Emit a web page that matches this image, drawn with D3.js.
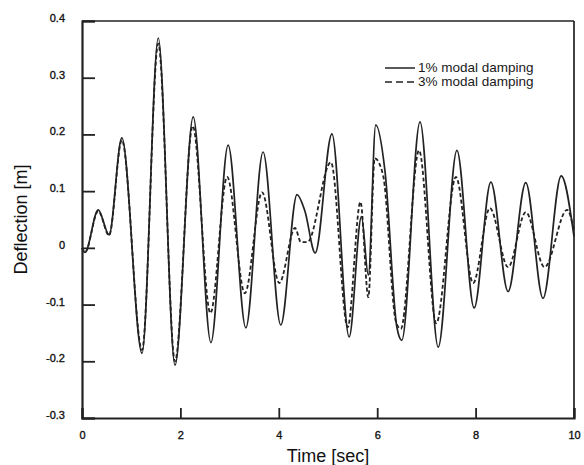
<!DOCTYPE html>
<html>
<head>
<meta charset="utf-8">
<script src="https://cdn.jsdelivr.net/npm/d3@7"></script>
<style>
  html, body { margin: 0; padding: 0; background: #ffffff; }
  svg { display: block; }
</style>
</head>
<body>
<svg id="chart" width="584" height="465"></svg>
<script>
// ---- data ----
const time1 = [0.00, 0.06, 0.33, 0.55, 0.81, 1.22, 1.55, 1.89, 2.26, 2.62, 2.97, 3.33, 3.68, 4.04, 4.37, 4.53, 4.74, 5.08, 5.43, 5.68, 5.82, 5.97, 6.16, 6.40, 6.50, 6.87, 7.24, 7.62, 7.97, 8.31, 8.66, 9.02, 9.37, 9.74, 10.00];
const defl1 = [0.000, -0.008, 0.067, 0.023, 0.194, -0.186, 0.370, -0.207, 0.231, -0.167, 0.181, -0.141, 0.169, -0.136, 0.094, 0.065, -0.009, 0.201, -0.157, 0.055, -0.048, 0.217, 0.134, -0.140, -0.163, 0.222, -0.175, 0.172, -0.106, 0.116, -0.077, 0.115, -0.089, 0.127, 0.020];

const time3 = [0.00, 0.06, 0.33, 0.55, 0.81, 1.22, 1.55, 1.89, 2.25, 2.61, 2.95, 3.31, 3.66, 4.01, 4.33, 4.45, 4.58, 5.06, 5.40, 5.66, 5.82, 5.95, 6.12, 6.38, 6.48, 6.85, 7.20, 7.60, 7.95, 8.29, 8.66, 9.02, 9.40, 9.86, 10.00];
const defl3 = [0.000, -0.008, 0.065, 0.022, 0.190, -0.180, 0.360, -0.200, 0.215, -0.115, 0.125, -0.080, 0.098, -0.062, 0.035, 0.010, 0.010, 0.151, -0.140, 0.081, -0.087, 0.158, 0.128, -0.130, -0.143, 0.172, -0.133, 0.125, -0.062, 0.070, -0.034, 0.063, -0.034, 0.067, 0.031];

const xTicks = [0, 2, 4, 6, 8, 10];
const xTickLabels = ["0", "2", "4", "6", "8", "10"];
const yTicks = [-0.3, -0.2, -0.1, 0, 0.1, 0.2, 0.3, 0.4];
const yTickLabels = ["-0.3", "-0.2", "-0.1", "0", "0.1", "0.2", "0.3", "0.4"];
const seriesNames = ["1% modal damping", "3% modal damping"];

// ---- layout ----
const svg = d3.select("#chart");
const plotL = 82, plotR = 574, plotT = 21, plotB = 418;
const x = d3.scaleLinear().domain([0, 10]).range([plotL, plotR]);
const y = d3.scaleLinear().domain([-0.3, 0.4]).range([plotB, plotT]);
const ink = "#222222";
const font = "'Liberation Sans', Arial, Helvetica, sans-serif";

// frame top/right
svg.append("line").attr("x1", plotL).attr("x2", plotR).attr("y1", plotT).attr("y2", plotT)
  .attr("stroke", ink).attr("stroke-width", 1.7);
svg.append("line").attr("x1", plotR).attr("x2", plotR).attr("y1", plotT).attr("y2", plotB)
  .attr("stroke", ink).attr("stroke-width", 1.7);

// axes with inward ticks
const yAxis = d3.axisLeft(y).tickValues(yTicks).tickSize(-13).tickPadding(17)
  .tickFormat((d, i) => yTickLabels[i]);
const gy = svg.append("g").attr("transform", `translate(${plotL},0)`).call(yAxis);
gy.select(".domain").attr("stroke", ink).attr("stroke-width", 2.2);
gy.selectAll(".tick line").attr("stroke", ink).attr("stroke-width", 1.8);
gy.selectAll(".tick text").attr("font-family", font).attr("font-size", 11)
  .attr("fill", "#111").attr("stroke", "#111").attr("stroke-width", 0.35).attr("dy", "0.05em");

const xAxis = d3.axisBottom(x).tickValues(xTicks).tickSize(-10).tickPadding(13)
  .tickFormat((d, i) => xTickLabels[i]);
const gx = svg.append("g").attr("transform", `translate(0,${plotB})`).call(xAxis);
gx.select(".domain").attr("stroke", ink).attr("stroke-width", 2.2);
gx.selectAll(".tick line").attr("stroke", ink).attr("stroke-width", 1.8);
gx.selectAll(".tick text").attr("font-family", font).attr("font-size", 11)
  .attr("fill", "#111").attr("stroke", "#111").attr("stroke-width", 0.35);

// series
const line = d3.line().x(d => x(d[0])).y(d => y(d[1])).curve(d3.curveMonotoneX);
const data1 = time1.map((t, i) => [t, defl1[i]]);
const data3 = time3.map((t, i) => [t, defl3[i]]);

svg.append("path").datum(data3).attr("d", line).attr("fill", "none")
  .attr("stroke", ink).attr("stroke-width", 1.8).attr("stroke-dasharray", "4,2.5");
svg.append("path").datum(data1).attr("d", line).attr("fill", "none")
  .attr("stroke", ink).attr("stroke-width", 1.7);

// legend
const lg = svg.append("g");
lg.append("line").attr("x1", 385).attr("x2", 415).attr("y1", 68).attr("y2", 68)
  .attr("stroke", ink).attr("stroke-width", 1.5);
lg.append("line").attr("x1", 385).attr("x2", 415).attr("y1", 82).attr("y2", 82)
  .attr("stroke", ink).attr("stroke-width", 1.6).attr("stroke-dasharray", "7,4");
lg.append("text").attr("x", 418).attr("y", 72).text(seriesNames[0])
  .attr("font-family", font).attr("font-size", 13.5).attr("fill", "#1a1a1a");
lg.append("text").attr("x", 418).attr("y", 86).text(seriesNames[1])
  .attr("font-family", font).attr("font-size", 13.5).attr("fill", "#1a1a1a");

// axis titles
svg.append("text").attr("x", (plotL + plotR) / 2).attr("y", 462).attr("text-anchor", "middle")
  .attr("font-family", font).attr("font-size", 18).attr("fill", "#111").text("Time [sec]");
svg.append("text").attr("transform", `translate(27,${(plotT + plotB) / 2}) rotate(-90)`)
  .attr("text-anchor", "middle").attr("font-family", font).attr("font-size", 18)
  .attr("fill", "#111").text("Deflection [m]");
</script>
</body>
</html>
